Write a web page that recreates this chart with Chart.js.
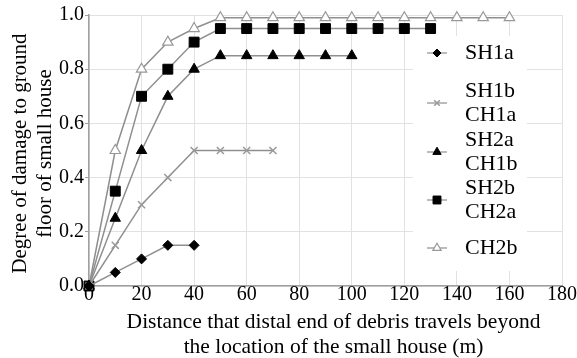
<!DOCTYPE html>
<html lang="en">
<head>
    <meta charset="UTF-8">
    <title>Degree of damage vs debris travel distance</title>
    <script src="https://cdn.jsdelivr.net/npm/chart.js"></script>
    <style>
        html, body {
            margin: 0;
            padding: 0;
            background: #ffffff;
        }
        #chartContainer {
            width: 577px;
            height: 358px;
        }
    </style>
</head>
<body>
    <div id="chartContainer">
        <canvas id="damageChart"></canvas>
    </div>

    <script>
        // Distances (m)
        const distances = [0, 10, 20, 30, 40, 50, 60, 70, 80, 90, 100, 110, 120, 130, 140, 150, 160];

        // Degree of damage for each case
        const sh1a = [0, 0.05, 0.10, 0.15, 0.15];
        const sh1bCh1a = [0, 0.15, 0.30, 0.40, 0.50, 0.50, 0.50, 0.50];
        const sh2aCh1b = [0, 0.25, 0.50, 0.70, 0.80, 0.85, 0.85, 0.85, 0.85, 0.85, 0.85];
        const sh2bCh2a = [0, 0.35, 0.70, 0.80, 0.90, 0.95, 0.95, 0.95, 0.95, 0.95, 0.95, 0.95, 0.95, 0.95];
        const ch2b = [0, 0.50, 0.80, 0.90, 0.95, 0.99, 0.99, 0.99, 0.99, 0.99, 0.99, 0.99, 0.99, 0.99, 0.99, 0.99, 0.99];

        const xTicks = [0, 20, 40, 60, 80, 100, 120, 140, 160, 180];
        const yTicks = [0.0, 0.2, 0.4, 0.6, 0.8, 1.0];

        const legendLabels = [['SH1a'], ['SH1b', 'CH1a'], ['SH2a', 'CH1b'], ['SH2b', 'CH2a'], ['CH2b']];
        const xTitle = ['Distance that distal end of debris travels beyond', 'the location of the small house (m)'];
        const yTitle = ['Degree of damage to ground', 'floor of small house'];

        const serif = "'Liberation Serif', 'Times New Roman', serif";
        const lineGray = '#8f8f8f';
        const textColor = '#000';

        function toPoints(values) {
            return values.map((v, i) => ({ x: distances[i], y: v }));
        }

        function makeSeries(label, values, style) {
            return Object.assign({
                label: label,
                data: toPoints(values),
                borderColor: lineGray,
                borderWidth: 1.5,
                showLine: true,
                fill: false,
                tension: 0,
                clip: false
            }, style);
        }

        const datasets = [
            makeSeries('SH1a', sh1a, { pointStyle: 'rectRot', pointRadius: 5, pointBackgroundColor: '#000', pointBorderColor: '#000', pointBorderWidth: 1 }),
            makeSeries('SH1b CH1a', sh1bCh1a, { pointStyle: 'crossRot', pointRadius: 5, pointBorderColor: '#999', pointBorderWidth: 1.5 }),
            makeSeries('SH2a CH1b', sh2aCh1b, { pointStyle: 'triangle', pointRadius: 6, pointBackgroundColor: '#000', pointBorderColor: '#000', pointBorderWidth: 1 }),
            makeSeries('SH2b CH2a', sh2bCh2a, { pointStyle: 'rect', pointRadius: 7, pointBackgroundColor: '#000', pointBorderColor: '#000', pointBorderWidth: 1 }),
            makeSeries('CH2b', ch2b, { pointStyle: 'triangle', pointRadius: 6, pointBackgroundColor: '#fff', pointBorderColor: '#999', pointBorderWidth: 1.2 })
        ];

        // Axis titles, placed a little off-centre like the original figure
        const axisTitles = {
            id: 'axisTitles',
            afterDraw(chart) {
                const ctx = chart.ctx;
                const area = chart.chartArea;
                ctx.save();
                ctx.fillStyle = textColor;
                ctx.textAlign = 'center';
                ctx.textBaseline = 'middle';
                ctx.font = '21.5px ' + serif;
                const cx = (area.left + area.right) / 2 + 8;
                xTitle.forEach((t, k) => ctx.fillText(t, cx, area.bottom + 36 + k * 25));
                ctx.font = '21px ' + serif;
                ctx.translate(0, (area.top + area.bottom) / 2 + 3);
                ctx.rotate(-Math.PI / 2);
                yTitle.forEach((t, k) => ctx.fillText(t, 0, 20 + k * 25));
                ctx.restore();
            }
        };

        // Legend with two-line labels, drawn inside the plot area
        const boxedLegend = {
            id: 'boxedLegend',
            afterDraw(chart) {
                const ctx = chart.ctx;
                const area = chart.chartArea;
                const rows = [53, 103, 152, 200, 248];
                const markX = area.right - 125;
                const textX = area.right - 97;
                ctx.save();
                ctx.fillStyle = '#fff';
                ctx.fillRect(area.right - 149, area.top + 21, 114, 235);
                ctx.font = '22px ' + serif;
                ctx.textBaseline = 'middle';
                legendLabels.forEach((lines, i) => {
                    const ds = chart.data.datasets[i];
                    const y = rows[i] + area.top - 15;
                    ctx.strokeStyle = lineGray;
                    ctx.lineWidth = 1.2;
                    ctx.beginPath();
                    ctx.moveTo(markX - 10, y);
                    ctx.lineTo(markX + 10, y);
                    ctx.stroke();
                    ctx.fillStyle = ds.pointBackgroundColor || '#fff';
                    ctx.strokeStyle = ds.pointBorderColor;
                    ctx.lineWidth = ds.pointBorderWidth;
                    Chart.helpers.drawPoint(ctx, { pointStyle: ds.pointStyle, radius: ds.pointRadius * 0.8, rotation: 0, borderWidth: ds.pointBorderWidth }, markX, y);
                    ctx.fillStyle = textColor;
                    const step = 24;
                    const y0 = y - step * (lines.length - 1) / 2;
                    lines.forEach((t, k) => ctx.fillText(t, textX, y0 + k * step));
                });
                ctx.restore();
            }
        };

        const ctx = document.getElementById('damageChart').getContext('2d');
        const chart = new Chart(ctx, {
            type: 'scatter',
            data: { datasets: datasets },
            options: {
                responsive: true,
                maintainAspectRatio: false,
                animation: false,
                layout: { padding: { top: 15, right: 15, left: 0, bottom: 0 } },
                plugins: {
                    legend: { display: false },
                    tooltip: { enabled: false }
                },
                scales: {
                    x: {
                        type: 'linear',
                        min: 0,
                        max: 180,
                        afterBuildTicks: (scale) => { scale.ticks = xTicks.map(v => ({ value: v })); },
                        afterFit: (scale) => { scale.height = 72; },
                        grid: { color: '#e2e2e2', lineWidth: 1, drawTicks: false },
                        border: { color: '#a0a0a0', width: 1.5 },
                        ticks: {
                            color: textColor,
                            padding: -1,
                            font: { family: serif, size: 20, lineHeight: 1 }
                        }
                    },
                    y: {
                        type: 'linear',
                        min: 0,
                        max: 1,
                        afterBuildTicks: (scale) => { scale.ticks = yTicks.map(v => ({ value: v })); },
                        afterFit: (scale) => { scale.width = 89; },
                        grid: { color: '#e2e2e2', lineWidth: 1, tickLength: 4, tickColor: '#a0a0a0' },
                        border: { color: '#a0a0a0', width: 1.5 },
                        ticks: {
                            color: textColor,
                            padding: 1,
                            font: { family: serif, size: 20 },
                            callback: (v) => Number(v).toFixed(1)
                        }
                    }
                }
            },
            plugins: [axisTitles, boxedLegend]
        });
    </script>
</body>
</html>
